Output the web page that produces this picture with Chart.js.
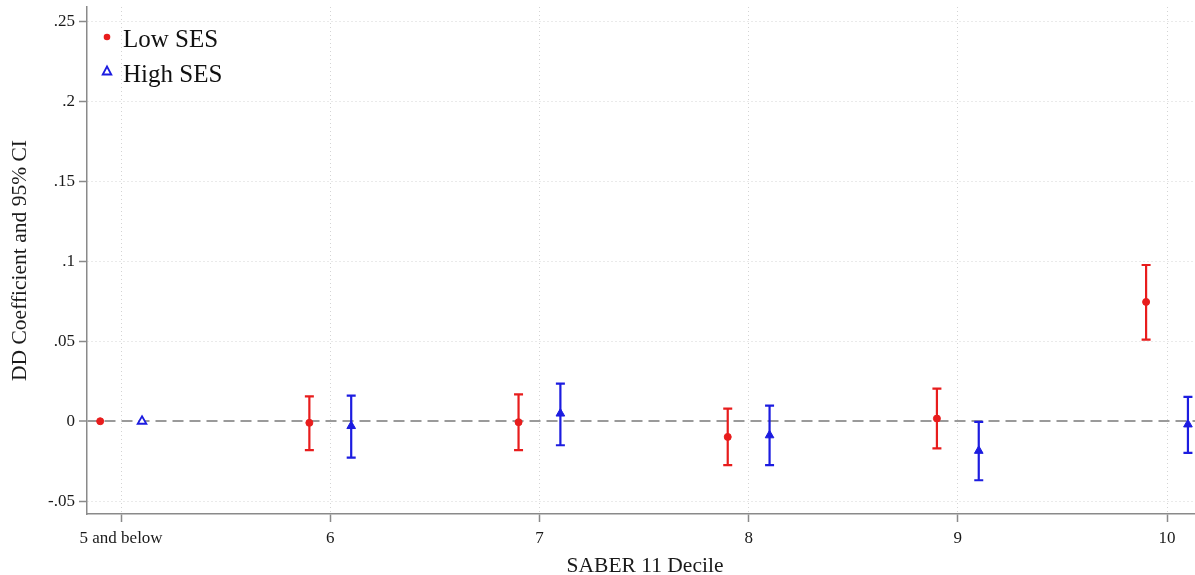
<!DOCTYPE html>
<html>
<head>
<meta charset="utf-8">
<title>DD Coefficient by SABER 11 Decile</title>
<script src="https://cdn.jsdelivr.net/npm/chart.js@4.4.1/dist/chart.umd.min.js"></script>
<style>
  html, body { margin: 0; background: #fff; overflow: hidden; }
  .frame { position: relative; width: 1195px; height: 575px; overflow: hidden; }
  .wrap { position: absolute; left: 0; top: 0; width: 1203px; height: 575px; }
  .legend { font-family: 'Liberation Serif', 'Times New Roman', serif; font-size: 25px; color: #111; }
  .legend .txt { position: absolute; line-height: 25px; white-space: nowrap; }
  .legend svg { position: absolute; }
</style>
</head>
<body>
<div class="frame">
<div class="wrap">
  <canvas id="ddChart"></canvas>
  <div class="legend">
    <svg style="left:100px; top:30px" width="14" height="14"><circle cx="7" cy="7" r="3.3" fill="#e81c1c"/></svg>
    <span class="txt" style="left:123px; top:26px">Low SES</span>
    <svg style="left:100px; top:64px" width="14" height="14"><polygon points="7,2.5 11.3,10.5 2.7,10.5" fill="#fff" stroke="#1c1ce0" stroke-width="1.8"/></svg>
    <span class="txt" style="left:123px; top:61px">High SES</span>
  </div>
</div>
</div>
<script>
// deciles on the x axis, low SES plotted just left, high SES just right
const deciles = [5, 6, 7, 8, 9, 10];
const decileLabels = ['5 and below', '6', '7', '8', '9', '10'];
const groupOffset = 0.1;

// Low SES: point estimate and 95% CI
const lowCoef  = [0, -0.001, -0.0006, -0.0098, 0.0017, 0.0746];
const lowLower = [null, -0.018, -0.018, -0.0275, -0.017, 0.051];
const lowUpper = [null, 0.0156, 0.0168, 0.0079, 0.0204, 0.0977];

// High SES
const highCoef  = [0, -0.003, 0.0048, -0.0088, -0.0185, -0.002];
const highLower = [null, -0.0227, -0.015, -0.0275, -0.0369, -0.0198];
const highUpper = [null, 0.016, 0.0235, 0.0098, -0.0004, 0.0152];

const yTicks = [-0.05, 0, 0.05, 0.1, 0.15, 0.2, 0.25];
const yTickLabels = ['-.05', '0', '.05', '.1', '.15', '.2', '.25'];

const RED = '#e81c1c';
const BLUE = '#1c1ce0';
const AXIS = '#8a8a8a';
const GRID = '#d4d4d4';

const toPoints = (coef, lo, hi, shift) =>
  deciles.map((d, i) => ({ x: d + shift, y: coef[i], lo: lo[i], hi: hi[i] }));

// draws the CI whiskers under the markers
const errorBars = {
  id: 'errorBars',
  beforeDatasetsDraw(chart) {
    const ctx = chart.ctx;
    const xs = chart.scales.x, ys = chart.scales.y;
    chart.data.datasets.forEach(ds => {
      ctx.save();
      ctx.strokeStyle = ds.borderColor;
      ctx.lineWidth = 2.2;
      ds.data.forEach(p => {
        if (p.lo == null) return;
        const px = xs.getPixelForValue(p.x);
        const top = ys.getPixelForValue(p.hi);
        const bot = ys.getPixelForValue(p.lo);
        ctx.beginPath();
        ctx.moveTo(px, top); ctx.lineTo(px, bot);
        ctx.moveTo(px - 4.5, top); ctx.lineTo(px + 4.5, top);
        ctx.moveTo(px - 4.5, bot); ctx.lineTo(px + 4.5, bot);
        ctx.stroke();
      });
      ctx.restore();
    });
  }
};

Chart.defaults.font.family = "'Liberation Serif', 'Times New Roman', serif";
Chart.defaults.color = '#1a1a1a';

const isZero = c => c.tick && Math.abs(c.tick.value) < 1e-9;

new Chart(document.getElementById('ddChart'), {
  type: 'scatter',
  data: {
    datasets: [
      {
        label: 'Low SES',
        data: toPoints(lowCoef, lowLower, lowUpper, -groupOffset),
        pointStyle: 'circle',
        pointRadius: 3.5,
        backgroundColor: RED,
        borderColor: RED,
        pointBorderWidth: 1
      },
      {
        label: 'High SES',
        data: toPoints(highCoef, highLower, highUpper, groupOffset),
        pointStyle: 'triangle',
        pointRadius: 5,
        borderColor: BLUE,
        pointBackgroundColor: c => c.dataIndex === 0 ? '#fff' : BLUE,
        pointBorderWidth: c => c.dataIndex === 0 ? 1.8 : 1
      }
    ]
  },
  options: {
    responsive: true,
    maintainAspectRatio: false,
    animation: false,
    layout: { autoPadding: false, padding: { top: 7, left: 0, right: 0, bottom: 0 } },
    plugins: {
      legend: { display: false },
      tooltip: { enabled: false }
    },
    scales: {
      x: {
        type: 'linear',
        min: 4.837,
        max: 10.172,
        afterBuildTicks: s => { s.ticks = deciles.map(v => ({ value: v })); },
        afterFit: s => { s.height = 61; s.paddingLeft = 0; s.paddingRight = 0; },
        ticks: {
          autoSkip: false,
          maxRotation: 0,
          padding: 6,
          font: { size: 17 },
          callback: v => decileLabels[deciles.indexOf(v)]
        },
        grid: { color: GRID, lineWidth: 1, tickColor: AXIS, tickWidth: 1.5, tickLength: 8 },
        border: { color: AXIS, width: 1.5, dash: [1, 3] },
        title: {
          display: true,
          text: 'SABER 11 Decile',
          font: { size: 21.5, lineHeight: 0.85 },
          padding: { top: 0, bottom: 0 }
        }
      },
      y: {
        min: -0.058,
        max: 0.259,
        afterBuildTicks: s => { s.ticks = yTicks.map(v => ({ value: v })); },
        afterFit: s => { s.width = 87; s.paddingTop = 0; s.paddingBottom = 0; },
        ticks: {
          padding: 4,
          font: { size: 17 },
          callback: v => yTickLabels[yTicks.indexOf(v)]
        },
        grid: {
          color: c => isZero(c) ? '#9a9a9a' : GRID,
          lineWidth: c => isZero(c) ? 2 : 1,
          tickColor: AXIS,
          tickWidth: 1.5,
          tickLength: 8
        },
        border: {
          color: AXIS,
          width: 1.5,
          dash: c => isZero(c) ? [11, 6] : [1, 3]
        },
        title: {
          display: true,
          text: 'DD Coefficient and 95% CI',
          font: { size: 21.5 },
          padding: { top: 7, bottom: 0 }
        }
      }
    }
  },
  plugins: [errorBars]
});
</script>
</body>
</html>
